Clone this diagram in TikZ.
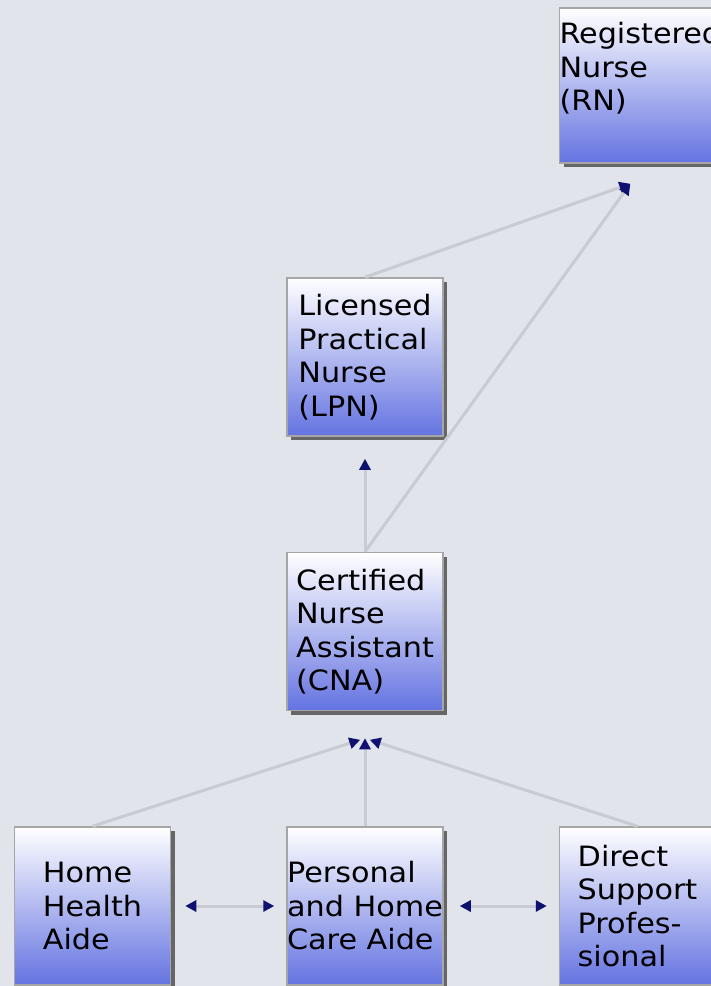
\documentclass[tikz,border=0pt]{standalone}
\usepackage{fontspec}
\setmainfont[FakeStretch=1.08]{DejaVu Sans}
\usetikzlibrary{shapes,arrows.meta,positioning,shadows,calc}

\definecolor{canvas}{RGB}{225,228,234}
\definecolor{boxblue}{RGB}{100,115,225}
\definecolor{linkgray}{RGB}{200,203,210}
\definecolor{tipnavy}{RGB}{16,16,112}

\begin{document}
\begin{tikzpicture}[
    x=1pt, y=-1pt,
    node distance=115pt and 115pt,
    job/.style={rectangle, draw=black!35, line width=1.5pt, top color=white, bottom color=boxblue, minimum width=156pt, minimum height=158pt, inner sep=0pt, align=left, font=\fontsize{28}{33.5}\selectfont, general shadow={fill=black!60, shadow xshift=4pt, shadow yshift=-4pt}},
    link/.style={draw=linkgray, line width=3pt, -{Triangle[length=11pt,width=11pt,color=tipnavy]}},
    twoway/.style={draw=linkgray, line width=3pt, {Triangle[length=11pt,width=11pt,color=tipnavy]}-{Triangle[length=11pt,width=11pt,color=tipnavy]}}
]

\fill[canvas] (0,0) rectangle (711,986);
\useasboundingbox (0,0) rectangle (711,986);

\node[job] (phca) at (365,906) {Personal\\and Home\\Care Aide};
\node[job, above=of phca] (cna) {Certified\\Nurse\\Assistant\\(CNA)};
\node[job, above=of cna] (lpn) {Licensed\\Practical\\Nurse\\(LPN)};
\node[job, left=of phca] (hha) {Home\\Health\\Aide};
\node[job, right=of phca] (dsp) {Direct\\Support\\Profes-\\sional};
\node[job, above right=113.5pt and 115pt of lpn, minimum height=155pt, text depth=38pt] (rn) {Registered\\Nurse\\(RN)};

\coordinate (rnfoot) at ($(rn.south)+(-10,20)$);
\coordinate (cnafoot) at ($(cna.south)+(0,27)$);

\draw[link] (lpn.north) -- (rnfoot);
\draw[link] (cna.north) -- (rnfoot);
\draw[link, shorten >=22pt] (cna.north) -- (lpn.south);
\draw[link, shorten >=5pt] (hha.north) -- (cnafoot);
\draw[link] (phca.north) -- (cnafoot);
\draw[link, shorten >=5pt] (dsp.north) -- (cnafoot);
\draw[twoway, shorten <=14pt, shorten >=12pt] (hha.east) -- (phca.west);
\draw[twoway, shorten <=16pt, shorten >=12pt] (phca.east) -- (dsp.west);

\end{tikzpicture}
\end{document}
